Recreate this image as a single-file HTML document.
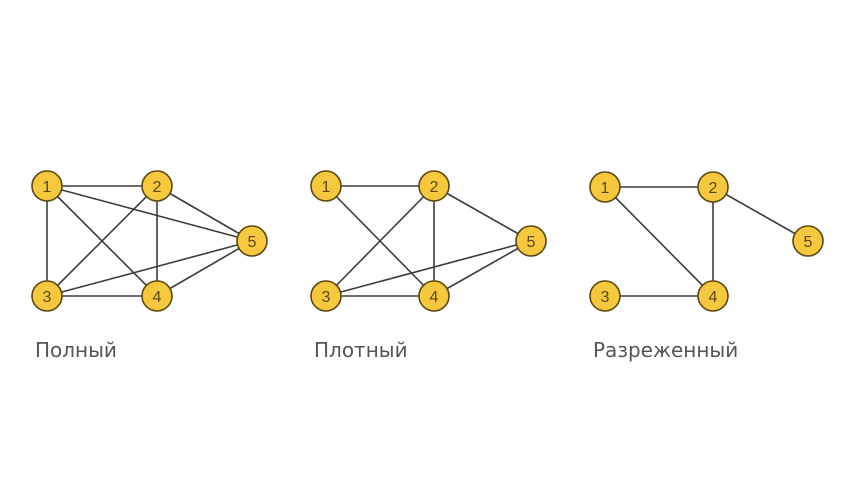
<!DOCTYPE html>
<html><head><meta charset="utf-8"><style>
html,body{margin:0;padding:0;background:#fff;width:851px;height:482px;overflow:hidden}
svg{display:block}
</style></head><body>
<svg width="851" height="482" viewBox="0 0 851 482" xmlns="http://www.w3.org/2000/svg">
<g stroke="#3d3d3d" stroke-width="1.6" fill="none">
<line x1="47" y1="186" x2="157" y2="186"/><line x1="47" y1="186" x2="47" y2="296"/>
<line x1="47" y1="186" x2="157" y2="296"/><line x1="47" y1="186" x2="252" y2="241"/>
<line x1="157" y1="186" x2="47" y2="296"/><line x1="157" y1="186" x2="157" y2="296"/>
<line x1="157" y1="186" x2="252" y2="241"/><line x1="47" y1="296" x2="157" y2="296"/>
<line x1="47" y1="296" x2="252" y2="241"/><line x1="157" y1="296" x2="252" y2="241"/>
<line x1="326" y1="186" x2="434" y2="186"/><line x1="326" y1="186" x2="434" y2="296"/>
<line x1="434" y1="186" x2="326" y2="296"/><line x1="434" y1="186" x2="434" y2="296"/>
<line x1="434" y1="186" x2="531" y2="241"/><line x1="326" y1="296" x2="434" y2="296"/>
<line x1="326" y1="296" x2="531" y2="241"/><line x1="434" y1="296" x2="531" y2="241"/>
<line x1="605" y1="187" x2="713" y2="187"/><line x1="605" y1="187" x2="713" y2="296"/>
<line x1="713" y1="187" x2="713" y2="296"/><line x1="713" y1="187" x2="808" y2="241"/>
<line x1="605" y1="296" x2="713" y2="296"/>
</g>
<g fill="#f6c83f" stroke="#5a4810" stroke-width="1.6">
<circle cx="47" cy="186" r="15"/><circle cx="157" cy="186" r="15"/><circle cx="47" cy="296" r="15"/><circle cx="157" cy="296" r="15"/><circle cx="252" cy="241" r="15"/>
<circle cx="326" cy="186" r="15"/><circle cx="434" cy="186" r="15"/><circle cx="326" cy="296" r="15"/><circle cx="434" cy="296" r="15"/><circle cx="531" cy="241" r="15"/>
<circle cx="605" cy="187" r="15"/><circle cx="713" cy="187" r="15"/><circle cx="605" cy="296" r="15"/><circle cx="713" cy="296" r="15"/><circle cx="808" cy="241" r="15"/>
</g>
<g font-family="Liberation Sans, DejaVu Sans, sans-serif" font-size="16" fill="#5a4810" text-anchor="middle">
<text x="47" y="192">1</text><text x="157" y="192">2</text><text x="47" y="302">3</text><text x="157" y="302">4</text><text x="252" y="247">5</text>
<text x="326" y="192">1</text><text x="434" y="192">2</text><text x="326" y="302">3</text><text x="434" y="302">4</text><text x="531" y="247">5</text>
<text x="605" y="193">1</text><text x="713" y="193">2</text><text x="605" y="302">3</text><text x="713" y="302">4</text><text x="808" y="247">5</text>
</g>
<g font-family="DejaVu Sans, Liberation Sans, sans-serif" font-size="20" fill="#555">
<text x="35" y="357">Полный</text>
<text x="314" y="357">Плотный</text>
<text x="593" y="357">Разреженный</text>
</g>
</svg>
</body></html>
